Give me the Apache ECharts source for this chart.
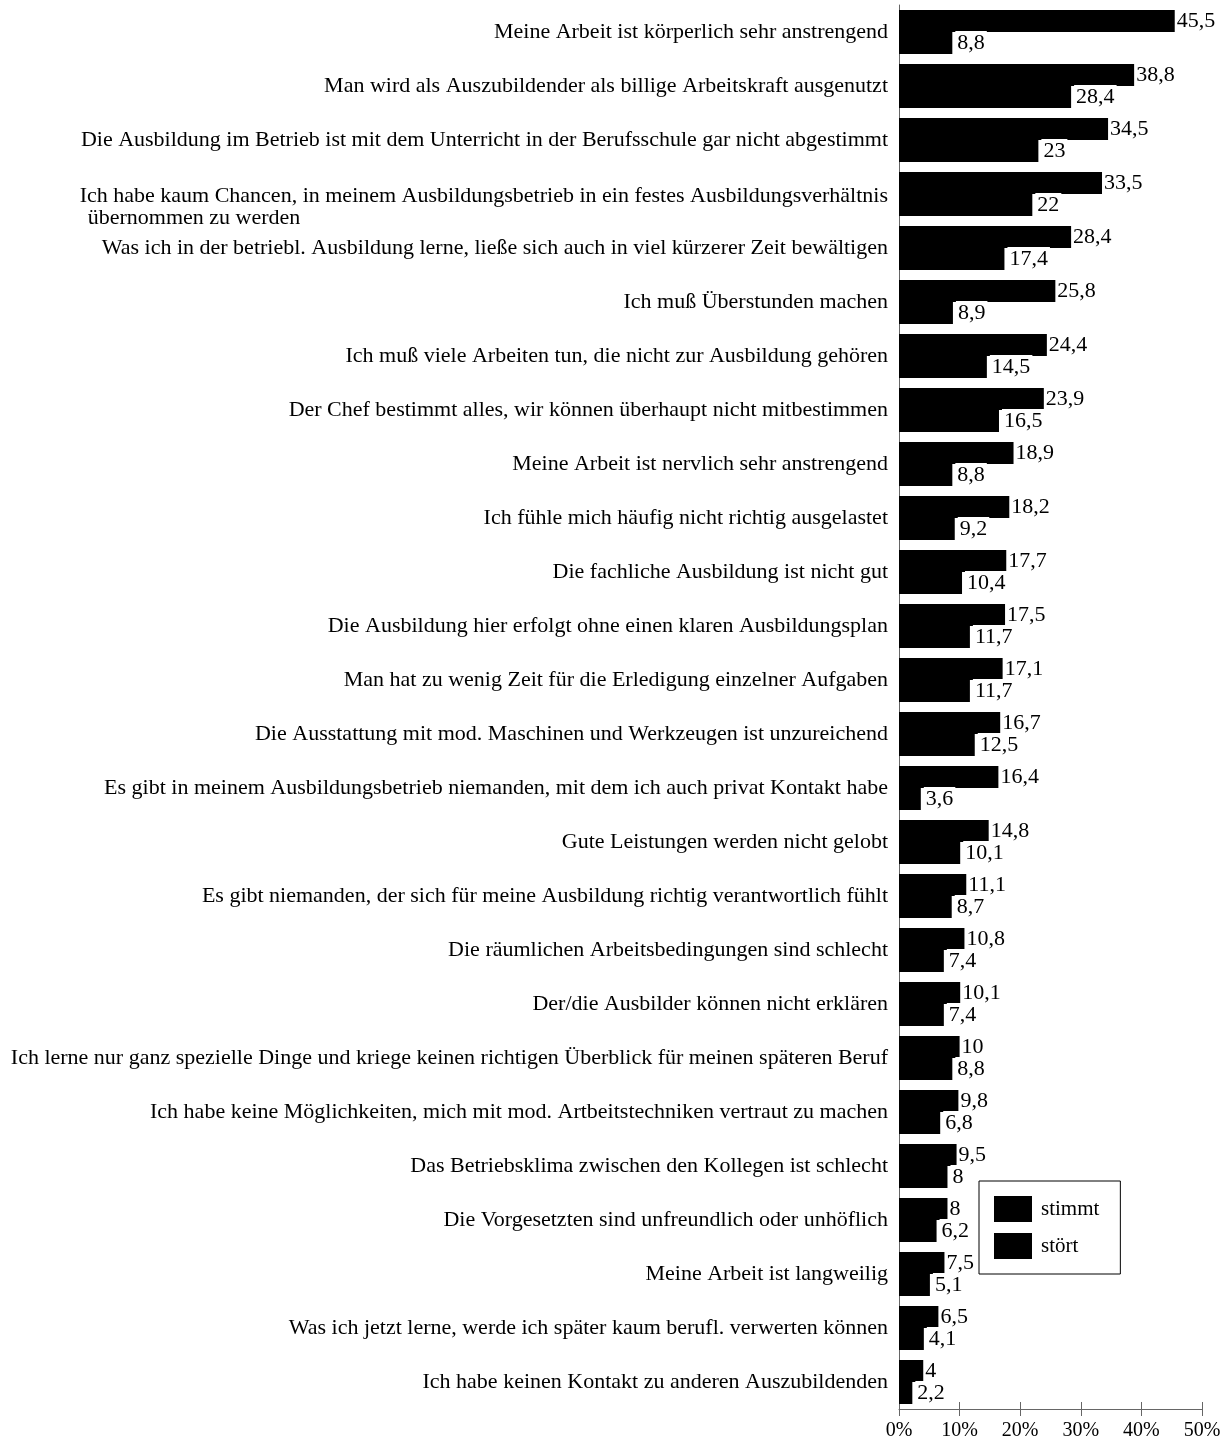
<!DOCTYPE html>
<html>
<head>
<meta charset="utf-8">
<script src="https://cdn.jsdelivr.net/npm/echarts@6/dist/echarts.min.js"></script>
<style>
html,body{margin:0;padding:0;background:#fff;}
#chart{width:1231px;height:1443px;}
</style>
</head>
<body>
<div id="chart"></div>
<script>
const categories = [
  "Meine Arbeit ist körperlich sehr anstrengend",
  "Man wird als Auszubildender als billige Arbeitskraft ausgenutzt",
  "Die Ausbildung im Betrieb ist mit dem Unterricht in der Berufsschule gar nicht abgestimmt",
  "Ich habe kaum Chancen, in meinem Ausbildungsbetrieb in ein festes Ausbildungsverhältnis\nübernommen zu werden",
  "Was ich in der betriebl. Ausbildung lerne, ließe sich auch in viel kürzerer Zeit bewältigen",
  "Ich muß Überstunden machen",
  "Ich muß viele Arbeiten tun, die nicht zur Ausbildung gehören",
  "Der Chef bestimmt alles, wir können überhaupt nicht mitbestimmen",
  "Meine Arbeit ist nervlich sehr anstrengend",
  "Ich fühle mich häufig nicht richtig ausgelastet",
  "Die fachliche Ausbildung ist nicht gut",
  "Die Ausbildung hier erfolgt ohne einen klaren Ausbildungsplan",
  "Man hat zu wenig Zeit für die Erledigung einzelner Aufgaben",
  "Die Ausstattung mit mod. Maschinen und Werkzeugen ist unzureichend",
  "Es gibt in meinem Ausbildungsbetrieb niemanden, mit dem ich auch privat Kontakt habe",
  "Gute Leistungen werden nicht gelobt",
  "Es gibt niemanden, der sich für meine Ausbildung richtig verantwortlich fühlt",
  "Die räumlichen Arbeitsbedingungen sind schlecht",
  "Der/die Ausbilder können nicht erklären",
  "Ich lerne nur ganz spezielle Dinge und kriege keinen richtigen Überblick für meinen späteren Beruf",
  "Ich habe keine Möglichkeiten, mich mit mod. Artbeitstechniken vertraut zu machen",
  "Das Betriebsklima zwischen den Kollegen ist schlecht",
  "Die Vorgesetzten sind unfreundlich oder unhöflich",
  "Meine Arbeit ist langweilig",
  "Was ich jetzt lerne, werde ich später kaum berufl. verwerten können",
  "Ich habe keinen Kontakt zu anderen Auszubildenden"
];
const stimmt = [45.5, 38.8, 34.5, 33.5, 28.4, 25.8, 24.4, 23.9, 18.9, 18.2, 17.7, 17.5, 17.1, 16.7, 16.4, 14.8, 11.1, 10.8, 10.1, 10, 9.8, 9.5, 8, 7.5, 6.5, 4];
const stoert = [8.8, 28.4, 23, 22, 17.4, 8.9, 14.5, 16.5, 8.8, 9.2, 10.4, 11.7, 11.7, 12.5, 3.6, 10.1, 8.7, 7.4, 7.4, 8.8, 6.8, 8, 6.2, 5.1, 4.1, 2.2];
const seriesNames = ["stimmt", "stört"];
const xTicks = [0, 10, 20, 30, 40, 50];

const FONT = "'Liberation Serif', 'DejaVu Serif', serif";
const chart = echarts.init(document.getElementById('chart'), null, {renderer: 'canvas'});

function fmtVal(p) { return String(p.value).replace('.', ','); }

function catLabel(v) {
  const lines = v.split('\n');
  if (lines.length === 1) return '{a|' + v + '}';
  return '{e| }\n{a|' + lines[0] + '}\n{b|' + lines[1] + '}';
}

const option = {
  backgroundColor: '#fff',
  animation: false,
  textStyle: {fontFamily: FONT},
  grid: {left: 899, right: 29, top: 5, bottom: 34, containLabel: false},
  legend: {
    data: seriesNames,
    orient: 'vertical',
    left: 979,
    top: 1181,
    icon: 'rect',
    itemWidth: 38,
    itemHeight: 26,
    itemGap: 11,
    padding: [15, 21, 15, 15],
    borderColor: '#000',
    borderWidth: 1,
    backgroundColor: '#fff',
    textStyle: {fontFamily: FONT, fontSize: 21, color: '#000', padding: [0, 0, 0, 4]}
  },
  xAxis: [{
    type: 'value',
    min: xTicks[0], max: xTicks[xTicks.length - 1], interval: 10,
    position: 'bottom',
    axisLine: {show: true, lineStyle: {color: '#666', width: 1}},
    axisTick: {show: true, length: 7, lineStyle: {color: '#666'}},
    splitLine: {show: false},
    axisLabel: {fontFamily: FONT, fontSize: 20, color: '#000', margin: 12, formatter: v => v + '%'}
  }, {
    type: 'value',
    min: xTicks[0], max: xTicks[xTicks.length - 1], interval: 10,
    position: 'bottom',
    axisLine: {show: false},
    axisTick: {show: true, inside: true, length: 7, lineStyle: {color: '#666'}},
    splitLine: {show: false},
    axisLabel: {show: false}
  }],
  yAxis: {
    type: 'category',
    data: categories,
    inverse: true,
    axisLine: {show: true, lineStyle: {color: '#666', width: 1}},
    axisTick: {show: false},
    axisLabel: {
      fontFamily: FONT, fontSize: 22, color: '#000', margin: 11,
      formatter: catLabel,
      rich: {
        e: {fontFamily: FONT, fontSize: 22, color: '#000', align: 'left', lineHeight: 26},
        a: {fontFamily: FONT, fontSize: 22, color: '#000', align: 'left', lineHeight: 22},
        b: {fontFamily: FONT, fontSize: 22, color: '#000', align: 'left', lineHeight: 22, padding: [0, 0, 0, 8]}
      }
    }
  },
  series: [{
    name: seriesNames[0],
    type: 'bar',
    xAxisIndex: 0,
    data: stimmt,
    barWidth: 22,
    barGap: '0%',
    itemStyle: {color: '#000'},
    label: {
      show: true, position: 'right', distance: 1,
      fontFamily: FONT, fontSize: 22, color: '#000',
      backgroundColor: '#fff', padding: [0, 1], lineHeight: 24,
      formatter: fmtVal
    },
    z: 2
  }, {
    name: seriesNames[1],
    type: 'bar',
    xAxisIndex: 0,
    data: stoert,
    barWidth: 22,
    barGap: '0%',
    itemStyle: {color: '#000'},
    label: {
      show: true, position: 'right', distance: 3,
      fontFamily: FONT, fontSize: 22, color: '#000',
      backgroundColor: '#fff', padding: [0, 2], lineHeight: 24,
      formatter: fmtVal
    },
    z: 3
  }]
};
chart.setOption(option);
</script>
</body>
</html>
